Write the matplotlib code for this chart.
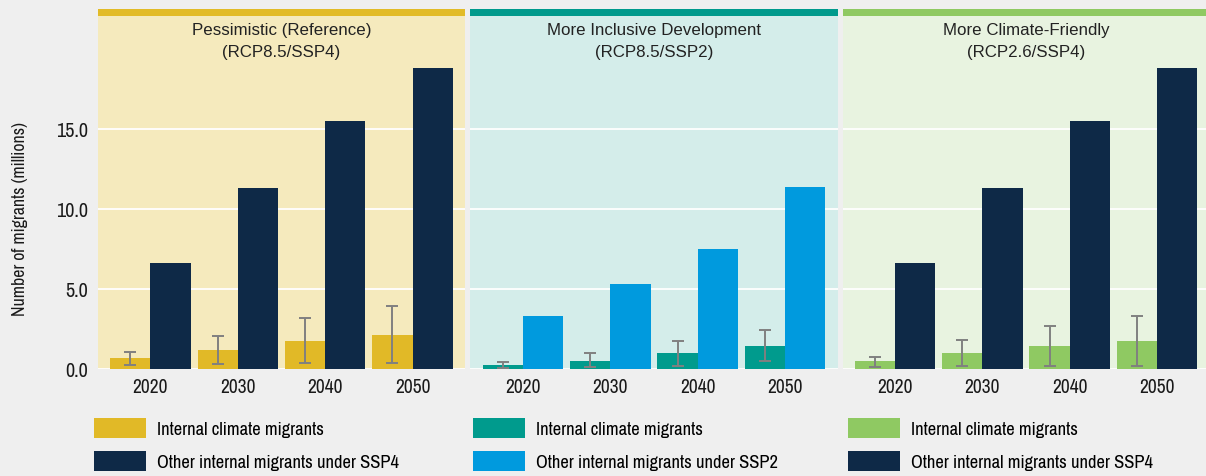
import matplotlib
matplotlib.use("Agg")
import matplotlib.pyplot as plt
from matplotlib import font_manager
from matplotlib.font_manager import FontProperties
from matplotlib.patches import Patch, Rectangle
import numpy as np

# ---------------- data ----------------
years = ["2020", "2030", "2040", "2050"]

panel_titles = ["Pessimistic (Reference)", "More Inclusive Development", "More Climate-Friendly"]
panel_subtitles = ["(RCP8.5/SSP4)", "(RCP8.5/SSP2)", "(RCP2.6/SSP4)"]

# internal climate migrants (millions)
climate_pess = [0.68, 1.18, 1.75, 2.12]
climate_incl = [0.28, 0.53, 0.97, 1.41]
climate_clim = [0.47, 0.97, 1.41, 1.72]

# error ranges (low, high)
low_pess = [0.25, 0.29, 0.35, 0.37]
high_pess = [1.08, 2.04, 3.19, 3.92]
low_incl = [0.09, 0.14, 0.20, 0.47]
high_incl = [0.45, 1.01, 1.78, 2.43]
low_clim = [0.14, 0.16, 0.20, 0.20]
high_clim = [0.76, 1.82, 2.68, 3.30]

# other internal migrants (millions)
other_ssp4 = [6.6, 11.3, 15.5, 18.8]
other_ssp2 = [3.34, 5.34, 7.47, 11.4]

legend_climate = "Internal climate migrants"
legend_other = ["Other internal migrants under SSP4",
                "Other internal migrants under SSP2",
                "Other internal migrants under SSP4"]
y_label = "Number of migrants (millions)"

# ---------------- fonts ----------------
available = {f.name for f in font_manager.fontManager.ttflist}


def pick(cands, default):
    for c in cands:
        if c in available:
            return c
    return default


narrow_name = pick(["Archivo Narrow", "Roboto Condensed", "PT Sans Narrow",
                    "Fira Sans Condensed", "IBM Plex Sans Condensed", "Barlow Semi Condensed"], None)
if narrow_name is not None:
    def nfp(size):
        return FontProperties(family=[narrow_name, "DejaVu Sans"], size=size)
else:
    def nfp(size):
        return FontProperties(family=["Open Sans", "DejaVu Sans"], stretch="condensed", size=size)

title_name = pick(["Liberation Sans", "Arimo"], "DejaVu Sans")


def tfp(size):
    return FontProperties(family=[title_name, "DejaVu Sans"], size=size)


# ---------------- style ----------------
fig_bg = "#efefef"
panel_bg = ["#f5eabd", "#d4edea", "#e8f3e0"]
top_bar = ["#e2bb27", "#009a8c", "#8fc962"]
light_colors = ["#e1b927", "#009b8d", "#8fc962"]
dark_colors = ["#0e2947", "#009ade", "#0e2947"]
text_color = "#1a1a1a"

fig = plt.figure(figsize=(12.06, 4.77), dpi=100, facecolor=fig_bg)

W, H = 1206.0, 477.0
lefts = [98, 470.5, 842.5]
pw = 367
top_px, base_px = 17, 370

climate_all = [climate_pess, climate_incl, climate_clim]
low_all = [low_pess, low_incl, low_clim]
high_all = [high_pess, high_incl, high_clim]
other_all = [other_ssp4, other_ssp2, other_ssp4]

x = np.arange(len(years))
bw = 0.46

for k in range(3):
    ax = fig.add_axes([lefts[k] / W, (H - base_px) / H, pw / W, (base_px - top_px) / H])
    ax.set_facecolor(panel_bg[k])
    for s in ax.spines.values():
        s.set_visible(False)
    ax.set_xlim(-0.6, 3.6)
    ax.set_ylim(0, 22.06)
    ax.set_yticks([0, 5, 10, 15])
    ax.yaxis.grid(True, color="white", linewidth=1.3)
    ax.set_axisbelow(True)
    ax.tick_params(axis="both", length=0)

    clim = np.array(climate_all[k])
    lo = np.array(low_all[k])
    hi = np.array(high_all[k])
    ax.bar(x - bw / 2, clim, width=bw, color=light_colors[k],
           yerr=[clim - lo, hi - clim],
           error_kw=dict(ecolor="#808080", elinewidth=1.4, capsize=4.5, capthick=1.4))
    ax.bar(x + bw / 2, other_all[k], width=bw, color=dark_colors[k])

    ax.set_xticks(x)
    ax.set_xticklabels(years, fontproperties=nfp(14), color=text_color)
    ax.tick_params(axis="x", pad=6)
    if k == 0:
        ax.set_yticklabels(["0.0", "5.0", "10.0", "15.0"], fontproperties=nfp(14.5),
                           color=text_color)
        ax.tick_params(axis="y", pad=7)
        ax.set_ylabel(y_label, fontproperties=nfp(12.8), color=text_color)
        ax.yaxis.set_label_coords(-0.19, 0.428)
    else:
        ax.set_yticklabels([])

    # coloured top band
    ax.add_patch(Rectangle((0, 1), 1, 7.3 / (base_px - top_px), transform=ax.transAxes,
                           facecolor=top_bar[k], edgecolor="none", clip_on=False))
    ax.text(0.5, 1 - 14 / 353, panel_titles[k], transform=ax.transAxes, ha="center",
            va="center", fontproperties=tfp(12.2), color="#222222")
    ax.text(0.5, 1 - 36 / 353, panel_subtitles[k], transform=ax.transAxes, ha="center",
            va="center", fontproperties=tfp(12.2), color="#222222")

    handles = [Patch(facecolor=light_colors[k], edgecolor="none"),
               Patch(facecolor=dark_colors[k], edgecolor="none")]
    leg_x = [94, 473, 848][k]
    fig.legend(handles, [legend_climate, legend_other[k]],
               loc="upper left", bbox_to_anchor=(leg_x / W, (H - 419) / H),
               frameon=False, prop=nfp(13.3),
               handlelength=2.81, handleheight=1.25, handletextpad=0.6,
               labelspacing=0.75, borderaxespad=0, borderpad=0)

fig.savefig("out.png", dpi=100, facecolor=fig_bg)
